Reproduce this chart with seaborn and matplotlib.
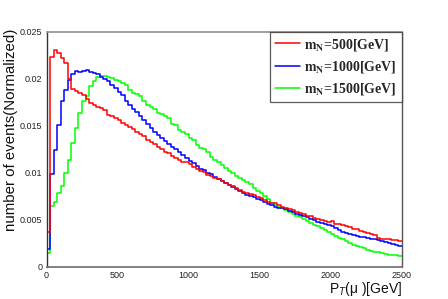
import numpy as np
import pandas as pd
import matplotlib
matplotlib.use("Agg")
import matplotlib.pyplot as plt
from matplotlib.lines import Line2D
from matplotlib.ticker import MultipleLocator, FixedLocator
import seaborn as sns

# ---------------- data (normalized histogram contents, 25 GeV bins, 0-2500 GeV) ----------------
bin_edges_gev = list(range(0, 2525, 25))
sample_labels = ["m_N=500", "m_N=1000", "m_N=1500"]

mN500 = [0.0037, 0.0223, 0.0231, 0.0228, 0.0222, 0.0217, 0.0200, 0.0189, 0.0187, 0.0185,
         0.0183, 0.0179, 0.0174, 0.0172, 0.0170, 0.0169, 0.0167, 0.0162, 0.0160, 0.0158,
         0.0156, 0.0153, 0.0151, 0.0149, 0.0147, 0.0143, 0.0141, 0.0139, 0.0135, 0.0133,
         0.0131, 0.0127, 0.0125, 0.0122, 0.0121, 0.0118, 0.0116, 0.0114, 0.0112, 0.0111,
         0.0109, 0.0106, 0.0104, 0.0102, 0.0101, 0.0098, 0.0097, 0.0095, 0.0093, 0.0091,
         0.0089, 0.0087, 0.0086, 0.0084, 0.0082, 0.0080, 0.0078, 0.0077, 0.0076, 0.0074,
         0.0073, 0.0071, 0.0069, 0.0068, 0.0068, 0.0066, 0.0064, 0.0063, 0.0061, 0.0060,
         0.0058, 0.0057, 0.0056, 0.0054, 0.0054, 0.0052, 0.0051, 0.0050, 0.0049, 0.0048,
         0.0049, 0.0046, 0.0045, 0.0044, 0.0043, 0.0042, 0.0040, 0.0040, 0.0038, 0.0037,
         0.0036, 0.0035, 0.0034, 0.0031, 0.0030, 0.0030, 0.0029, 0.0028, 0.0028, 0.0027]

mN1000 = [0.0019, 0.0099, 0.0124, 0.0151, 0.0177, 0.0188, 0.0199, 0.0205, 0.0208, 0.0207,
          0.0208, 0.0210, 0.0207, 0.0206, 0.0205, 0.0202, 0.0200, 0.0198, 0.0194, 0.0190,
          0.0186, 0.0183, 0.0177, 0.0172, 0.0168, 0.0165, 0.0160, 0.0156, 0.0152, 0.0148,
          0.0143, 0.0140, 0.0137, 0.0134, 0.0131, 0.0128, 0.0125, 0.0122, 0.0119, 0.0116,
          0.0113, 0.0110, 0.0107, 0.0104, 0.0103, 0.0100, 0.0099, 0.0096, 0.0093, 0.0091,
          0.0089, 0.0087, 0.0085, 0.0083, 0.0081, 0.0079, 0.0076, 0.0075, 0.0074, 0.0072,
          0.0071, 0.0069, 0.0067, 0.0066, 0.0064, 0.0063, 0.0062, 0.0061, 0.0059, 0.0058,
          0.0056, 0.0055, 0.0054, 0.0053, 0.0051, 0.0050, 0.0048, 0.0047, 0.0046, 0.0044,
          0.0043, 0.0041, 0.0039, 0.0037, 0.0036, 0.0035, 0.0034, 0.0033, 0.0032, 0.0032,
          0.0031, 0.0030, 0.0029, 0.0028, 0.0027, 0.0026, 0.0025, 0.0024, 0.0023, 0.0022]

mN1500 = [0.0015, 0.0065, 0.0069, 0.0078, 0.0086, 0.0100, 0.0114, 0.0132, 0.0148, 0.0164,
          0.0177, 0.0182, 0.0193, 0.0198, 0.0202, 0.0203, 0.0203, 0.0202, 0.0201, 0.0199,
          0.0198, 0.0196, 0.0194, 0.0188, 0.0185, 0.0184, 0.0182, 0.0176, 0.0172, 0.0170,
          0.0168, 0.0164, 0.0163, 0.0161, 0.0158, 0.0152, 0.0151, 0.0146, 0.0144, 0.0141,
          0.0137, 0.0135, 0.0130, 0.0126, 0.0125, 0.0122, 0.0117, 0.0114, 0.0111, 0.0108,
          0.0105, 0.0102, 0.0100, 0.0097, 0.0094, 0.0092, 0.0090, 0.0088, 0.0084, 0.0081,
          0.0078, 0.0075, 0.0072, 0.0068, 0.0066, 0.0064, 0.0062, 0.0060, 0.0058, 0.0056,
          0.0054, 0.0053, 0.0051, 0.0049, 0.0047, 0.0044, 0.0043, 0.0041, 0.0039, 0.0037,
          0.0035, 0.0033, 0.0031, 0.0029, 0.0027, 0.0025, 0.0023, 0.0022, 0.0021, 0.0020,
          0.0018, 0.0017, 0.0016, 0.0016, 0.0015, 0.0014, 0.0013, 0.0012, 0.0012, 0.0011]

legend_texts = [r"$\mathbf{m_{N}}$=500[GeV]", r"$\mathbf{m_{N}}$=1000[GeV]", r"$\mathbf{m_{N}}$=1500[GeV]"]
colors = ["#ff0000", "#0000ff", "#00ff00"]
y_ticks = [0, 0.005, 0.01, 0.015, 0.02, 0.025]
y_tick_labels = ["0", "0.005", "0.01", "0.015", "0.02", "0.025"]
x_ticks = [0, 500, 1000, 1500, 2000, 2500]

# ---------------- build long table ----------------
edges = np.array(bin_edges_gev, dtype=float)
centers = 0.5 * (edges[:-1] + edges[1:])
frames = []
for lab, vals in zip(sample_labels, [mN500, mN1000, mN1500]):
    frames.append(pd.DataFrame({"pt": centers, "w": vals, "sample": lab}))
df = pd.concat(frames, ignore_index=True)

# ---------------- style ----------------
sns.set_theme(style="white")
plt.rcParams["font.family"] = ["Liberation Sans", "DejaVu Sans"]
plt.rcParams["mathtext.fontset"] = "custom"
plt.rcParams["mathtext.rm"] = "Liberation Sans"
plt.rcParams["mathtext.it"] = "Liberation Sans:italic"
plt.rcParams["mathtext.bf"] = "Liberation Sans:bold"

fig = plt.figure(figsize=(4.48, 2.99), dpi=100)
ax = fig.add_axes([0.1038, 0.108, 0.7929, 0.785])

sns.histplot(data=df, x="pt", weights="w", hue="sample", hue_order=sample_labels,
             binwidth=25, binrange=(edges[0], edges[-1]), element="step", fill=False,
             palette=colors, linewidth=1.1, legend=False, ax=ax)

ax.set_xlim(0, 2500)
ax.set_ylim(0, 0.025)

ax.yaxis.set_major_locator(FixedLocator(y_ticks))
ax.set_yticklabels(y_tick_labels)
ax.yaxis.set_minor_locator(MultipleLocator(0.001))
ax.xaxis.set_major_locator(FixedLocator(x_ticks))
ax.set_xticklabels([str(v) for v in x_ticks])
ax.xaxis.set_minor_locator(MultipleLocator(100))

ax.tick_params(which="both", direction="in", colors="#333333", labelcolor="#222222",
               top=False, right=False)
ax.tick_params(which="major", labelsize=6.5, pad=3)
ax.tick_params(axis="y", which="major", length=8, width=0.9)
ax.tick_params(axis="y", which="minor", length=4, width=0.8)
ax.tick_params(axis="x", which="major", length=7, width=0.9)
ax.tick_params(axis="x", which="minor", length=3.5, width=0.8)

for side, sp in ax.spines.items():
    sp.set_visible(True)
    sp.set_color("#555555")
    sp.set_linewidth(1.0)
ax.spines["top"].set_color("#999999")
ax.spines["top"].set_linewidth(1.3)
ax.spines["bottom"].set_color("#777777")
ax.spines["bottom"].set_linewidth(1.3)
ax.spines["left"].set_color("#333333")

ax.set_ylabel("number of events(Normalized)", fontsize=10.8, color="#111111")
ax.yaxis.set_label_coords(-0.080, 0.582)
ax.set_xlabel(r"P$_{T}$(μ )[GeV]", fontsize=10, loc="right", color="#111111")
ax.xaxis.set_label_coords(1.0, -0.058)

handles = [Line2D([0], [0], color=c, lw=1.1) for c in colors]
leg = ax.legend(handles, legend_texts, loc="upper right", bbox_to_anchor=(1.0, 1.0),
                borderaxespad=0.0, frameon=True, fancybox=False, shadow=False,
                prop={"family": "Liberation Serif", "weight": "bold", "size": 10},
                handlelength=1.8, handletextpad=0.35, labelspacing=0.45,
                borderpad=0.35)
leg.get_frame().set_edgecolor("#333333")
leg.get_frame().set_linewidth(0.9)
for t in leg.get_texts():
    t.set_math_fontfamily("stix")

fig.savefig("out.png", dpi=100)
